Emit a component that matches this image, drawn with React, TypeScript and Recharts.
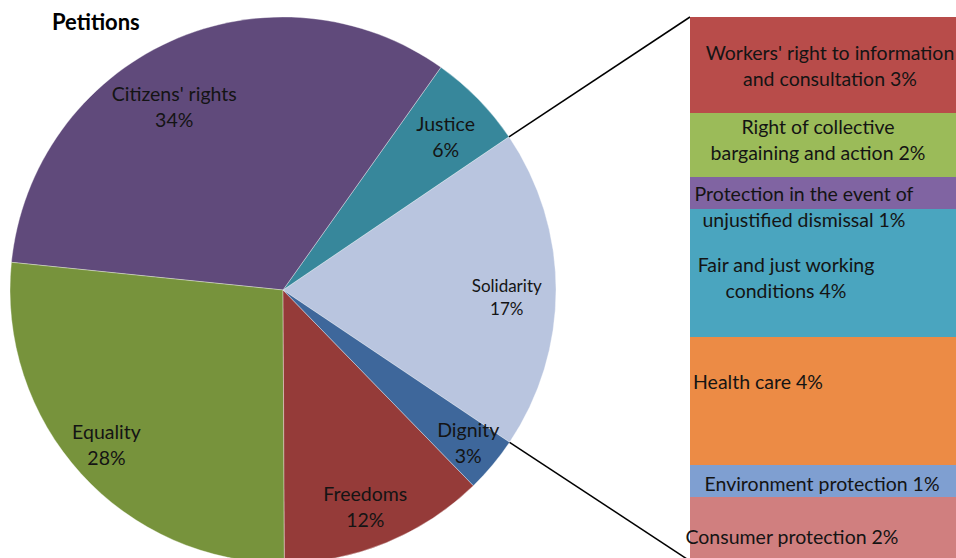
import React from 'react';
import { PieChart, Pie, Cell, BarChart, Bar, XAxis, YAxis, LabelList } from 'recharts';

// ---- main pie data (sector sizes as drawn, labels as printed) ----
const mainCategories = ['Solidarity', 'Justice', "Citizens' rights", 'Equality', 'Freedoms', 'Dignity'];
const mainShares = [18.9, 5.7, 33.2, 26.7, 12.2, 3.3];
const mainPercentLabels = [17, 6, 34, 28, 12, 3];
const mainColors = ['#b9c5df', '#37879b', '#604a7b', '#77933c', '#953b39', '#3e679b'];

// ---- secondary stacked bar (top to bottom) ----
const secondaryCategories = [
  "Workers' right to information|and consultation",
  'Right of collective|bargaining and action',
  'Protection in the event of|unjustified dismissal',
  'Fair and just working|conditions',
  'Health care',
  'Environment protection',
  'Consumer protection',
];
const secondaryValues = [3, 2, 1, 4, 4, 1, 2];
const secondaryColors = ['#b84c4a', '#9bbb59', '#8064a2', '#4aa5bf', '#ec8b45', '#7f9fd1', '#d07f7f'];

// ---- layout (not data) ----
const W = 956;
const H = 558;
const PIE_CX = 283;
const PIE_CY = 290;
const PIE_R = 273;
const BAR_LEFT = 690;
const BAR_TOP = 17;
const BAR_BOTTOM = 561;
const BAR_WIDTH = 280;
const BAR_PAD_LEFT = 20;
const FONT = 'Lato, "Open Sans", sans-serif';
const TEXT_COLOR = '#141414';
const RAD = Math.PI / 180;

const mainLabelPlacement = [
  { r: 0.82, da: -1.9, fs: 17, lh: 23 },
  { r: 0.82, da: -1, fs: 19.5, lh: 26 },
  { r: 0.78, da: 6.3, fs: 19.5, lh: 26 },
  { r: 0.86, da: -1, fs: 19.5, lh: 26 },
  { r: 0.85, da: -1.5, fs: 19.5, lh: 26 },
  { r: 0.88, da: 0.3, fs: 19.5, lh: 26 },
];

// text-block centre relative to the segment's left edge / vertical centre
const secondaryLabelPlacement = [
  { cx: 140, cy: 0.5 },
  { cx: 128, cy: -5.5 },
  { cx: 114, cy: 13 },
  { cx: 96, cy: 4.5 },
  { cx: 68, cy: -20 },
  { cx: 132, cy: 2 },
  { cx: 102, cy: 7 },
];

const pieData = mainCategories.map((name, i) => ({ name, value: mainShares[i], pct: mainPercentLabels[i] }));

const barRow: Record<string, any> = { name: 'Solidarity' };
secondaryCategories.forEach((c, i) => {
  barRow['s' + i] = secondaryValues[i];
});
const barData = [barRow];

function renderPieLabel(props: any) {
  const { cx, cy, midAngle, outerRadius, index, percent } = props;
  const place = mainLabelPlacement[index];
  const a = (midAngle + place.da) * RAD;
  const x = cx + outerRadius * place.r * Math.cos(a);
  const y = cy - outerRadius * place.r * Math.sin(a);
  const lines = [mainCategories[index], `${mainPercentLabels[index]}%`];
  let connectors = null;
  if (mainCategories[index] === 'Solidarity') {
    const s = (midAngle - percent * 180) * RAD;
    const e = (midAngle + percent * 180) * RAD;
    connectors = (
      <g>
        <line
          x1={cx + outerRadius * Math.cos(e)}
          y1={cy - outerRadius * Math.sin(e)}
          x2={BAR_LEFT}
          y2={BAR_TOP}
          stroke="#000"
          strokeWidth={1.5}
        />
        <line
          x1={cx + outerRadius * Math.cos(s)}
          y1={cy - outerRadius * Math.sin(s)}
          x2={BAR_LEFT}
          y2={BAR_BOTTOM}
          stroke="#000"
          strokeWidth={1.5}
        />
      </g>
    );
  }
  return (
    <g key={'pl' + index}>
      {connectors}
      <text
        x={x}
        y={y}
        textAnchor="middle"
        fill={TEXT_COLOR}
        fontFamily={FONT}
        fontSize={place.fs}
      >
        {lines.map((l, k) => (
          <tspan key={k} x={x} y={y + (k - 0.5) * place.lh} dominantBaseline="central">
            {l}
          </tspan>
        ))}
      </text>
    </g>
  );
}

function makeBarLabel(segIndex: number) {
  return (props: any) => {
    const { x, y, height } = props;
    const place = secondaryLabelPlacement[segIndex];
    const parts = secondaryCategories[segIndex].split('|');
    parts[parts.length - 1] = `${parts[parts.length - 1]} ${secondaryValues[segIndex]}%`;
    const tx = Number(x) + place.cx;
    const ty = Number(y) + Number(height) / 2 + place.cy;
    const lh = 26;
    const n = parts.length;
    return (
      <text textAnchor="middle" fill={TEXT_COLOR} fontFamily={FONT} fontSize={19.5}>
        {parts.map((p, k) => (
          <tspan key={k} x={tx} y={ty + (k - (n - 1) / 2) * lh} dominantBaseline="central">
            {p}
          </tspan>
        ))}
      </text>
    );
  };
}

export default function App() {
  const barOrder = secondaryCategories.map((_, i) => i).reverse(); // bottom first
  return (
    <div
      style={{
        position: 'absolute',
        left: 0,
        top: 0,
        width: W,
        height: H,
        overflow: 'hidden',
        background: '#fff',
      }}
    >
      <div style={{ position: 'absolute', left: 0, top: 0 }}>
        <PieChart width={W} height={H} margin={{ top: 0, right: 0, bottom: 0, left: 0 }}>
          <Pie
            data={pieData}
            dataKey="value"
            nameKey="name"
            cx={PIE_CX}
            cy={PIE_CY}
            outerRadius={PIE_R}
            startAngle={-33.9}
            endAngle={326.1}
            stroke="rgba(255,255,255,0.35)"
            strokeWidth={1}
            label={renderPieLabel}
            labelLine={false}
            isAnimationActive={false}
          >
            {pieData.map((d, i) => (
              <Cell key={d.name} fill={mainColors[i]} />
            ))}
          </Pie>
        </PieChart>
      </div>
      <div style={{ position: 'absolute', left: BAR_LEFT - BAR_PAD_LEFT, top: 0 }}>
        <BarChart
          width={BAR_WIDTH + BAR_PAD_LEFT}
          height={BAR_BOTTOM}
          data={barData}
          margin={{ top: BAR_TOP, right: 0, bottom: 0, left: BAR_PAD_LEFT }}
          barCategoryGap={0}
          style={{ overflow: 'visible' }}
        >
          <XAxis dataKey="name" hide />
          <YAxis hide domain={[0, 17]} />
          {barOrder.map((i) => (
            <Bar
              key={i}
              dataKey={'s' + i}
              stackId="a"
              fill={secondaryColors[i]}
              isAnimationActive={false}
            >
              <LabelList dataKey={'s' + i} content={makeBarLabel(i)} />
            </Bar>
          ))}
        </BarChart>
      </div>
      <div
        style={{
          position: 'absolute',
          left: 52,
          top: 8,
          fontFamily: FONT,
          fontWeight: 700,
          fontSize: 22,
          color: '#000',
        }}
      >
        Petitions
      </div>
    </div>
  );
}
